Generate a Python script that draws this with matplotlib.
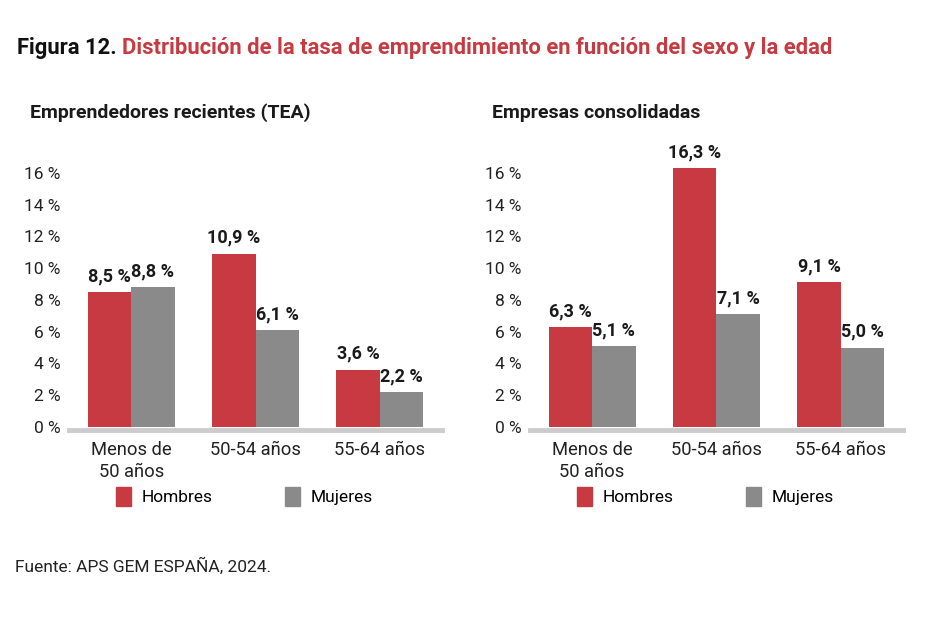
import matplotlib.pyplot as plt
import numpy as np
from matplotlib.patches import Patch

plt.rcParams['font.family'] = ['Roboto', 'DejaVu Sans']

categories = ["Menos de\n50 años", "50-54 años", "55-64 años"]
tea_hombres = [8.5, 10.9, 3.6]
tea_mujeres = [8.8, 6.1, 2.2]
cons_hombres = [6.3, 16.3, 9.1]
cons_mujeres = [5.1, 7.1, 5.0]
yticks = [0, 2, 4, 6, 8, 10, 12, 14, 16]

RED = "#c73a41"
GRAY = "#8a8a8a"
W, H = 928, 621


def fmt(v):
    return f"{v:.1f}".replace(".", ",") + " %"


def panel(ax, hombres, mujeres):
    x = np.arange(len(categories))
    w = 0.35
    for s in ("top", "right", "left"):
        ax.spines[s].set_visible(False)
    ax.spines["bottom"].set_position(("outward", 2))
    ax.spines["bottom"].set_color("#cccccc")
    ax.spines["bottom"].set_linewidth(3.5)

    b1 = ax.bar(x - w / 2, hombres, w, color=RED)
    b2 = ax.bar(x + w / 2, mujeres, w, color=GRAY)
    for bars, vals in ((b1, hombres), (b2, mujeres)):
        for b, v in zip(bars, vals):
            ax.annotate(fmt(v), (b.get_x() + b.get_width() / 2, v),
                        xytext=(0, 5), textcoords="offset points",
                        ha="center", va="bottom", fontsize=13,
                        fontweight="bold", color="#1a1a1a")
    ax.set_xlim(-0.5, 2.5)
    ax.set_ylim(0, 17)
    ax.set_yticks(yticks)
    ax.set_yticklabels([f"{t} %" for t in yticks])
    ax.set_xticks(x)
    ax.set_xticklabels(categories, linespacing=1.3)
    ax.tick_params(axis="y", length=0, pad=6, labelsize=12.5, labelcolor="#222222")
    ax.tick_params(axis="x", length=0, pad=8, labelsize=13.2, labelcolor="#222222")
    handles = [Patch(color=RED, label="Hombres"), Patch(color=GRAY, label="Mujeres")]
    ax.legend(handles=handles, loc="center", bbox_to_anchor=(0.47, -0.257), ncol=2,
              frameon=False, fontsize=12.5, handlelength=0.85, handleheight=1.3,
              handletextpad=0.6, columnspacing=4.2)


fig = plt.figure(figsize=(W / 100, H / 100), dpi=100)
ax1 = fig.add_axes([0.0744, 0.3124, 0.402, 0.4348])
ax2 = fig.add_axes([0.571, 0.3124, 0.402, 0.4348])
panel(ax1, tea_hombres, tea_mujeres)
panel(ax2, cons_hombres, cons_mujeres)

fig.text(30 / W, 1 - 113 / H, "Emprendedores recientes (TEA)", fontsize=14,
         fontweight="bold", color="#1a1a1a", ha="left", va="center")
fig.text(492 / W, 1 - 113 / H, "Empresas consolidadas", fontsize=14,
         fontweight="bold", color="#1a1a1a", ha="left", va="center")

t1 = fig.text(17 / W, 1 - 48 / H, "Figura 12. ", fontsize=15.8, fontweight="bold",
              color="#111111", ha="left", va="center")
fig.canvas.draw()
bb = t1.get_window_extent()
fig.text(bb.x1 / fig.bbox.width, 1 - 48 / H,
         "Distribución de la tasa de emprendimiento en función del sexo y la edad",
         fontsize=15.8, fontweight="bold", color=RED, ha="left", va="center")

fig.text(15 / W, 1 - 566 / H, "Fuente: APS GEM ESPAÑA, 2024.", fontsize=12.5,
         color="#222222", ha="left", va="center")

fig.savefig("out.png", dpi=100)
